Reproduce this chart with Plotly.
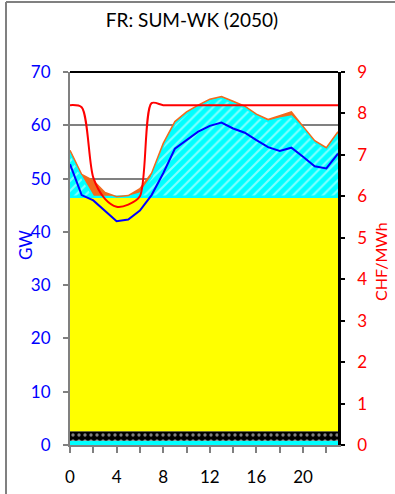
import plotly.graph_objects as go

hours = list(range(24))

# stacked layer tops (GW)
ror_top = [0.8] * 24            # cyan strip at the bottom
nuclear_top = [2.6] * 24        # black dotted band
base_top = [46.6] * 24          # yellow block
hatched_top = [55.0, 50.3, 46.6, 46.6, 46.6, 46.6, 47.2, 50.3, 56.2, 60.3, 62.2, 63.5,
               64.6, 65.1, 64.2, 63.3, 61.8, 60.7, 61.3, 61.7, 59.4, 56.8, 55.5, 58.4]
orange_top = [55.3, 50.8, 49.6, 47.4, 46.6, 46.8, 48.1, 51.0, 56.6, 60.7, 62.5, 63.8,
              64.9, 65.4, 64.5, 63.6, 62.1, 61.1, 61.8, 62.5, 59.8, 57.1, 55.8, 58.8]
demand = [52.7, 46.9, 45.9, 44.0, 42.0, 42.3, 44.0, 46.9, 51.0, 55.6, 57.2, 58.8,
          59.9, 60.5, 59.4, 58.6, 57.2, 55.9, 55.2, 55.8, 54.1, 52.3, 51.9, 54.7]
price = [8.2, 8.15, 6.45, 5.94, 5.75, 5.8, 6.0, 8.25, 8.2, 8.2, 8.2, 8.2,
         8.2, 8.2, 8.2, 8.2, 8.2, 8.2, 8.2, 8.2, 8.2, 8.2, 8.2, 8.2]

GRAY = "#808080"
FONT = "Lato"

fig = go.Figure()
fig.add_trace(go.Scatter(x=hours, y=ror_top, mode="lines", line=dict(width=0, color="#00FFFF"),
                         fill="tozeroy", fillcolor="#00FFFF", hoverinfo="skip"))
fig.add_trace(go.Scatter(x=hours, y=nuclear_top, mode="lines", line=dict(width=0, color="black"),
                         fill="tonexty", fillcolor="black",
                         fillpattern=dict(shape=".", bgcolor="black", fgcolor="white", size=6, solidity=0.25),
                         hoverinfo="skip"))
fig.add_trace(go.Scatter(x=hours, y=base_top, mode="lines", line=dict(width=2.5, color="#00FFFF"),
                         fill="tonexty", fillcolor="#FFFF00", hoverinfo="skip"))
fig.add_trace(go.Scatter(x=hours, y=hatched_top, mode="lines", line=dict(width=2, color="#00FFFF"),
                         fill="tonexty", fillcolor="#00FFFF",
                         fillpattern=dict(shape="/", bgcolor="#00FFFF", fgcolor="white", size=7, solidity=0.3),
                         hoverinfo="skip"))
fig.add_trace(go.Scatter(x=hours, y=orange_top, mode="lines", line=dict(width=1.5, color="#F26B1D"),
                         fill="tonexty", fillcolor="#F26B1D", hoverinfo="skip"))
fig.add_trace(go.Scatter(x=hours, y=demand, mode="lines", line=dict(width=2, color="#0000FF")))
fig.add_trace(go.Scatter(x=hours, y=price, mode="lines", yaxis="y2",
                         line=dict(width=2, color="#FF0000", shape="spline", smoothing=0.8)))

fig.update_layout(
    width=395, height=494,
    margin=dict(l=70, r=57, t=72, b=49, autoexpand=False),
    paper_bgcolor="white", plot_bgcolor="white",
    showlegend=False,
    font=dict(family=FONT, size=17, color="black"),
    title=dict(text="FR: SUM-WK (2050)", font=dict(family=FONT, size=19, color="black"),
               xref="container", x=0.486, xanchor="center",
               yref="container", y=1 - 20 / 494, yanchor="middle"),
    xaxis=dict(range=[0, 23], tickvals=[0, 4, 8, 12, 16, 20], ticks="outside", ticklen=6,
               tickcolor=GRAY, tickwidth=1.5, showline=True, linecolor=GRAY, linewidth=2,
               showgrid=False, zeroline=False, tickfont=dict(size=17, color="black"),
               ticklabelstandoff=10, automargin=False,
               minor=dict(tickvals=[2, 6, 10, 14, 18, 22], ticks="outside", ticklen=6,
                          tickcolor=GRAY, tickwidth=1.5, showgrid=False)),
    yaxis=dict(range=[0, 70], dtick=10, ticks="outside", ticklen=5, tickcolor=GRAY, tickwidth=1.5,
               showline=True, linecolor=GRAY, linewidth=2, showgrid=True, gridcolor=GRAY,
               gridwidth=2, zeroline=False, tickfont=dict(size=17, color="#0000FF"),
               ticklabelstandoff=9, automargin=False),
    yaxis2=dict(range=[0, 9], dtick=1, overlaying="y", side="right", ticks="outside", ticklen=4,
                tickcolor="black", tickwidth=1.5, showline=True, linecolor="black", linewidth=2.5,
                showgrid=False, zeroline=False, tickfont=dict(size=17, color="#FF0000"),
                ticklabelstandoff=9, automargin=False),
    annotations=[
        dict(text="GW", xref="paper", yref="paper", x=(25 - 70) / 268, y=(445 - 245) / 373,
             showarrow=False, textangle=-90, font=dict(size=17, color="#0000FF"),
             xanchor="center", yanchor="middle"),
        dict(text="CHF/MWh", xref="paper", yref="paper", x=(380 - 70) / 268, y=(445 - 262) / 373,
             showarrow=False, textangle=-90, font=dict(size=16, color="#FF0000"),
             xanchor="center", yanchor="middle"),
    ],
    shapes=[
        dict(type="line", xref="paper", yref="paper", x0=0, x1=1, y0=1, y1=1,
             line=dict(color="black", width=2)),
        dict(type="line", xref="paper", yref="paper", x0=(6 - 70) / 268, x1=(6 - 70) / 268,
             y0=-0.2, y1=1 + (72 - 2) / 373, line=dict(color=GRAY, width=2)),
        dict(type="line", xref="paper", yref="paper", x0=(6 - 70) / 268, x1=1.3,
             y0=1 + (72 - 2) / 373, y1=1 + (72 - 2) / 373, line=dict(color=GRAY, width=2)),
    ],
)

fig.write_html("out.html", config={"displayModeBar": False},
               post_script="document.body.style.margin='0';document.body.style.overflow='hidden';")
